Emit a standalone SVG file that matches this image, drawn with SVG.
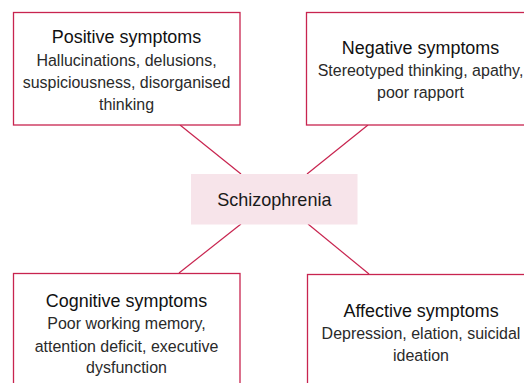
<svg xmlns="http://www.w3.org/2000/svg" width="524" height="383" viewBox="0 0 524 383">
<style>
.box{fill:#fff;stroke:#c8244f;stroke-width:1.3}
.core{fill:#f7e4ea;stroke:none}
.link{stroke:#c8244f;stroke-width:1.2;fill:none}
text{font-family:"Liberation Sans",Arial,sans-serif;text-anchor:middle}
.t{font-size:18.5px;fill:#111}
.b{font-size:17px;fill:#2a2a2a}
.c{font-size:19px;fill:#1a1a1a}
</style>
<rect width="524" height="383" fill="#fff"/>
<g id="connectors">
<line class="link" x1="180" y1="125" x2="241" y2="174"/>
<line class="link" x1="368" y1="125" x2="307" y2="174"/>
<line class="link" x1="241" y1="224" x2="179" y2="273"/>
<line class="link" x1="308" y1="224" x2="369" y2="274"/>
</g>
<g id="positive">
<rect class="box" x="13.5" y="12.5" width="226.5" height="112.5"/>
<text class="t" transform="translate(126.5 43) scale(0.97 1)">Positive symptoms</text>
<text class="b" transform="translate(126.5 65.5) scale(0.94 1)">Hallucinations, delusions,</text>
<text class="b" transform="translate(126.5 88) scale(0.94 1)">suspiciousness, disorganised</text>
<text class="b" transform="translate(126.5 110) scale(0.94 1)">thinking</text>
</g>
<g id="negative">
<rect class="box" x="306.5" y="12.5" width="227" height="112.5"/>
<text class="t" transform="translate(420.5 54) scale(0.97 1)">Negative symptoms</text>
<text class="b" transform="translate(420.5 76) scale(0.94 1)">Stereotyped thinking, apathy,</text>
<text class="b" transform="translate(420.5 98.3) scale(0.94 1)">poor rapport</text>
</g>
<g id="schizophrenia">
<rect class="core" x="191" y="174" width="166.5" height="50.5"/>
<text class="c" transform="translate(274.3 206) scale(0.95 1)">Schizophrenia</text>
</g>
<g id="cognitive">
<rect class="box" x="13.5" y="273.5" width="226.5" height="120"/>
<text class="t" transform="translate(126.5 307) scale(0.97 1)">Cognitive symptoms</text>
<text class="b" transform="translate(126.5 329.3) scale(0.94 1)">Poor working memory,</text>
<text class="b" transform="translate(126.5 351.5) scale(0.94 1)">attention deficit, executive</text>
<text class="b" transform="translate(126.5 373) scale(0.94 1)">dysfunction</text>
</g>
<g id="affective">
<rect class="box" x="307.5" y="274.5" width="227" height="120"/>
<text class="t" transform="translate(421 316.7) scale(0.97 1)">Affective symptoms</text>
<text class="b" transform="translate(421 339) scale(0.94 1)">Depression, elation, suicidal</text>
<text class="b" transform="translate(421 360.7) scale(0.94 1)">ideation</text>
</g>
</svg>
